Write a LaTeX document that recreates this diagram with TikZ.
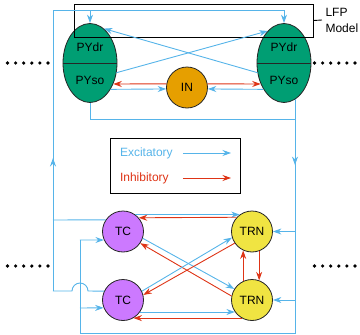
\documentclass[tikz,border=0pt]{standalone}
\usepackage{fontspec}
\setmainfont{Liberation Sans}
\usetikzlibrary{arrows.meta,shapes.geometric,decorations.markings}
\definecolor{excc}{RGB}{86,180,233}
\definecolor{inhc}{RGB}{222,52,22}
\definecolor{pyg}{RGB}{0,158,115}
\definecolor{ino}{RGB}{230,159,0}
\definecolor{tcp}{RGB}{204,121,255}
\definecolor{trny}{RGB}{240,228,66}
\begin{document}
\begin{tikzpicture}[x=1pt,y=-1pt, font=\fontsize{12}{16}\selectfont,
  tip/.style={-{Stealth[length=8.5pt,width=6pt]}},
  exc/.style={draw=excc, line width=0.9pt},
  excA/.style={exc, tip},
  inhA/.style={draw=inhc, line width=0.9pt, tip},
  midarrow/.style={postaction={decorate}, decoration={markings, mark=at position #1 with {\arrow[excc]{Stealth[length=8.5pt,width=6pt]}}}},
  py/.style={ellipse, draw=black!85, line width=0.8pt, fill=pyg, minimum width=54pt, minimum height=79pt, inner sep=0pt},
  cell/.style={circle, draw=black!85, line width=0.8pt, minimum size=41pt, inner sep=0pt},
  lbl/.style={inner sep=0pt},
  dotf/.style={fill=black}
]
\useasboundingbox (0,0) rectangle (360,335);

% cortex
\node[py] (pyl) at (90,63) {};
\node[py] (pyr) at (284,63) {};
\draw[line width=0.8pt, black!85] (pyl.west) -- (pyl.east);
\draw[line width=0.8pt, black!85] (pyr.west) -- (pyr.east);
\node[cell, fill=ino] (in) at (187,87.5) {IN};

% LFP box
\node[draw, line width=0.9pt, minimum width=239pt, minimum height=33pt, inner sep=0pt] (lfpbox) at (193.5,20.5) {};
\node[anchor=west, align=left] (lfp) at (322,20) {LFP\\Model};
\draw[line width=0.9pt] (lfpbox.east) -- (lfp.west);

\node[lbl] (pyldr) at (90,47) {PYdr};
\node[lbl] (pylso) at (90,80) {PYso};
\node[lbl] (pyrdr) at (284,47) {PYdr};
\node[lbl] (pyrso) at (284,80) {PYso};

% thalamus
\node[cell, fill=tcp] (tc1) at (123,231.5) {TC};
\node[cell, fill=tcp] (tc2) at (123,300) {TC};
\node[cell, fill=trny] (trn1) at (252,231.5) {TRN};
\node[cell, fill=trny] (trn2) at (252,300) {TRN};

% coordinates for feedback wiring
\coordinate (lx) at (53,0);
\coordinate (rx) at (295,0);
\coordinate (tl) at (53,10);
\coordinate (tr) at (284,10);
\coordinate (tm) at (90,10);
\coordinate (bl) at (80,333);
\coordinate (br) at (295,333);
\coordinate (m1) at (90,119);
\coordinate (m2) at (295,119);
\coordinate (a1) at (80,240);
\coordinate (a2) at (80,308);
\coordinate (r1) at (295,231.5);
\coordinate (r2) at (295,300);

% TC -> cortex
\draw[exc] (tc1.146) -- (53,220);
\draw[exc] (tc2.155) -- (88,291) arc[start angle=0, end angle=-180, radius=8] -- (53,291);
\draw[exc, midarrow=133pt] (53,291) -- (tl) -- (tr);
\draw[excA] (tr) -- (pyr.north);
\draw[excA] (tm) -- (pyl.north);

% cortex -> thalamus
\draw[exc] (pyl.south) -- (m1) -- (m2);
\draw[exc, midarrow=66pt] (pyr.-72 -| rx) -- (br) -- (bl) -- (80,240);
\draw[excA] (a1) -- (tc1.204);
\draw[excA] (a2) -- (tc2.202);
\draw[excA] (r1) -- (trn1.east);
\draw[excA] (r2) -- (trn2.east);

% cortex internal
\draw[excA] (pyl.-20) -- (pyr.117);
\draw[excA] (pyr.200) -- (pyl.68);
\draw[inhA] (in.170) -- (pyl.-42);
\draw[excA] (pyl.-52) -- (in.184);
\draw[inhA] (in.10) -- (pyr.222);
\draw[excA] (pyr.232) -- (in.-4);

% thalamus internal
\draw[excA] (tc1.54) -- (trn1.126);
\draw[inhA] (trn1.137) -- (tc1.41);
\draw[excA] (tc2.-35) -- (trn2.-145);
\draw[inhA] (trn2.-120) -- (tc2.-60);
\draw[excA] (tc1.-19) -- (trn2.148);
\draw[inhA] (trn2.169) -- (tc1.-34);
\draw[excA] (tc2.25) -- (trn1.-163);
\draw[inhA] (trn1.-146) -- (tc2.14);
\draw[inhA] (trn2.115) -- (trn1.-115);
\draw[inhA] (trn1.-70) -- (trn2.70);

% legend
\node[draw, line width=1pt, minimum width=130pt, minimum height=55pt, inner sep=0pt] (leg) at (176,165.5) {};
\node[anchor=west, text=excc] (ext) at (116.5,153) {Excitatory};
\node[anchor=west, text=inhc] (int) at (116.5,178) {Inhibitory};
\coordinate (ea1) at (183,153);
\coordinate (ea2) at (231,153);
\coordinate (ia1) at (183,178);
\coordinate (ia2) at (231,178);
\draw[excA, line width=0.7pt] (ea1) -- (ea2);
\draw[inhA, line width=0.7pt] (ia1) -- (ia2);

% dots
\foreach \x in {7.5,15.6,23.7,31.8,39.9,48} {
  \fill[dotf] (\x,63) circle (1.8);
  \fill[dotf] (\x,266) circle (1.8);
}
\foreach \x in {314.5,322.6,330.7,338.8,346.9,355} {
  \fill[dotf] (\x,63) circle (1.8);
  \fill[dotf] (\x,266) circle (1.8);
}
\end{tikzpicture}
\end{document}
